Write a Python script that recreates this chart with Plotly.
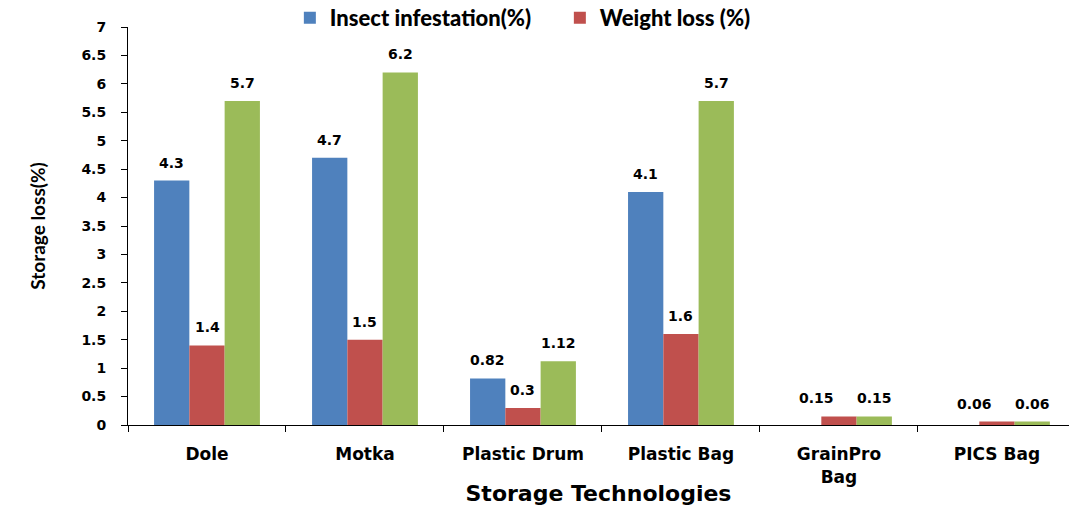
import plotly.graph_objects as go

categories = ["Dole", "Motka", "Plastic Drum", "Plastic Bag", "GrainPro<br>Bag", "PICS Bag"]
insect_infestation = [4.3, 4.7, 0.82, 4.1, 0, 0]
weight_loss = [1.4, 1.5, 0.3, 1.6, 0.15, 0.06]
total_loss = [5.7, 6.2, 1.12, 5.7, 0.15, 0.06]

y_ticks = [0, 0.5, 1, 1.5, 2, 2.5, 3, 3.5, 4, 4.5, 5, 5.5, 6, 6.5, 7]

BOLD = "DejaVu Sans"
BAR_GAP = 0.33
X_RANGE = [-0.5, 5.456]
LEFT, RIGHT, WIDTH = 128, 0, 1069

series = [
    ("Insect infestation(%)", insect_infestation, "#4F81BD", True),
    ("Weight loss (%)", weight_loss, "#C0504D", True),
    ("Total loss (%)", total_loss, "#9BBB59", False),
]

fig = go.Figure()
for name, vals, color, show in series:
    fig.add_trace(go.Bar(
        x=categories, y=vals, name=name, showlegend=show,
        marker=dict(color=color, line=dict(width=0)),
    ))

# value labels above each bar, offset sideways to sit over their bar in the group
px_per_cat = (WIDTH - LEFT - RIGHT) / (X_RANGE[1] - X_RANGE[0])
bar_px = px_per_cat * (1 - BAR_GAP) / len(series)
for i, (name, vals, color, show) in enumerate(series):
    for cat, v, other in zip(categories, vals, insect_infestation):
        if v <= 0:
            continue
        shift = (i - 1) * bar_px
        # small neighbouring labels are nudged apart so they don't collide
        if i == 1 and other == 0:
            shift -= 22
        fig.add_annotation(
            x=cat, y=v, xref="x", yref="y", text=f"{v:g}", showarrow=False,
            xshift=shift, yanchor="bottom", yshift=8,
            font=dict(family=BOLD, size=14, color="black", weight="bold"),
        )

fig.update_layout(
    width=WIDTH, height=506,
    margin=dict(l=LEFT, r=RIGHT, t=27, b=81, autoexpand=False),
    paper_bgcolor="white", plot_bgcolor="white",
    barmode="group", bargap=BAR_GAP, bargroupgap=0,
    font=dict(family=BOLD, color="black"),
    legend=dict(
        orientation="h", x=0.172, xanchor="left", y=1.023, yanchor="middle",
        font=dict(family="Lato", size=22, color="black", weight=900),
        itemwidth=30, tracegroupgap=0, entrywidth=225,
    ),
    xaxis=dict(
        range=X_RANGE,
        showline=True, linecolor="black", linewidth=1,
        ticks="outside", tickson="boundaries", ticklen=6, tickcolor="black",
        ticklabelstandoff=14,
        tickfont=dict(family=BOLD, size=17, color="black", weight="bold"),
        title=dict(text="Storage Technologies", standoff=6,
                   font=dict(family=BOLD, size=22, color="black", weight="bold")),
        showgrid=False,
    ),
    yaxis=dict(
        range=[0, 7], tickvals=y_ticks, ticktext=[f"{t:g}" for t in y_ticks],
        showline=True, linecolor="black", linewidth=1,
        ticks="outside", ticklen=6, tickcolor="black",
        ticklabelstandoff=12,
        tickfont=dict(family=BOLD, size=14, color="black", weight="bold"),
        title=dict(text="Storage loss(%)", standoff=30,
                   font=dict(family="Lato", size=19, color="black", weight="bold")),
        showgrid=False, zeroline=False,
    ),
)

fig.write_html("out.html")
